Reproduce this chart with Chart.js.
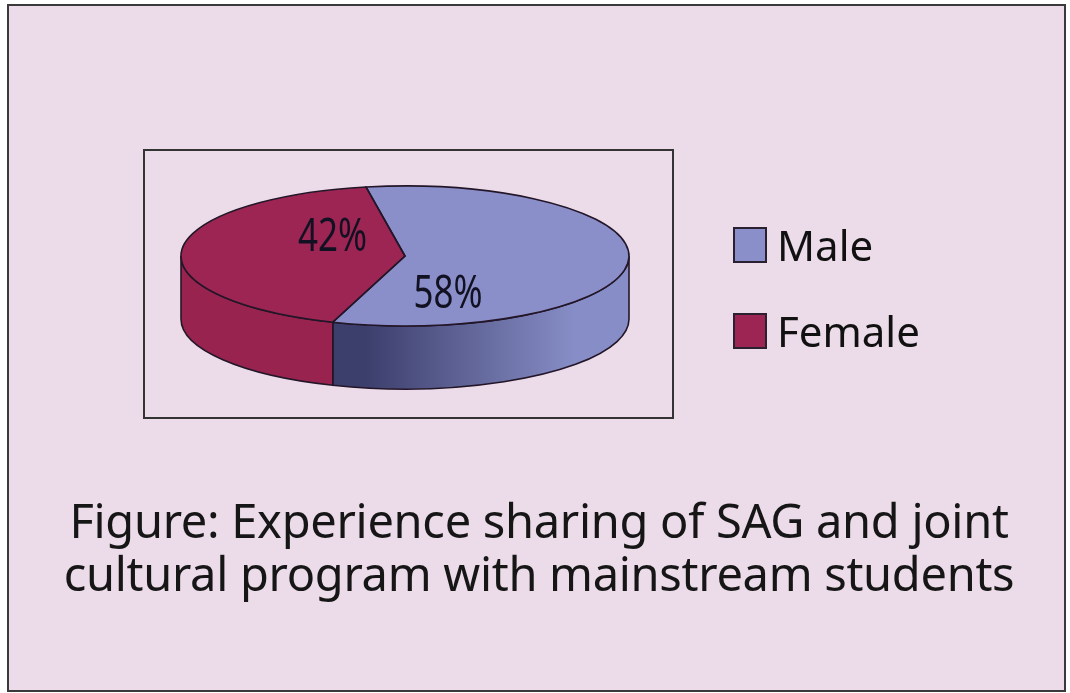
<!DOCTYPE html>
<html>
<head>
<meta charset="utf-8">
<script src="https://cdn.jsdelivr.net/npm/chart.js@4/dist/chart.umd.min.js"></script>
<style>
  body { margin: 0; background: #fff; width: 1070px; height: 693px; overflow: hidden; position: relative; font-family: "Noto Sans", sans-serif; }
  .frame { position: absolute; left: 7px; top: 4px; width: 1055px; height: 684px; border: 2.5px solid #3a3a3a; background: #ecdbe9; }
  .plotbox { position: absolute; left: 143px; top: 149px; width: 527px; height: 266px; border: 2px solid #333; }
  canvas { position: absolute; left: 0; top: 0; }
  .legend { position: absolute; left: 733px; top: 222px; }
  .legend div { display: flex; align-items: center; height: 45px; margin-bottom: 41px; font-size: 42px; color: #111; }
  .legend span { display: inline-block; width: 30px; height: 32px; border: 2px solid #2a2030; margin-right: 10px; }
  .caption { position: absolute; left: 0; width: 1078px; top: 494px; text-align: center; font-size: 47px; line-height: 53px; color: #161616; letter-spacing: -0.3px; }
</style>
</head>
<body>
<div class="frame"></div>
<div class="plotbox"></div>
<canvas id="chart" width="1070" height="693"></canvas>
<div class="legend" id="legend"></div>
<div class="caption">Figure: Experience sharing of SAG and joint<br>cultural program with mainstream students</div>

<script>
const labels = ["Male", "Female"];
const values = [58, 42];
const valueLabels = ["58%", "42%"];
const topColors = ["#8a8fca", "#9c2553"];

// 3D look
const squash = 0.3125;
const depth = 63;

function frontParts(s, e) {
  // parts of [s,e] that fall in the front half (0..PI, mod 2PI)
  const TAU = Math.PI * 2;
  let off = Math.floor(s / TAU) * TAU;
  s -= off; e -= off;
  let parts = [];
  for (let base of [0, TAU]) {
    let a = Math.max(s, base), b = Math.min(e, base + Math.PI);
    if (b > a) parts.push([a, b]);
  }
  return parts;
}

const pie3d = {
  id: "pie3d",
  beforeDatasetsDraw(chart) {
    const ctx = chart.ctx;
    const arcs = chart.getDatasetMeta(0).data;
    ctx.save();
    arcs.forEach((arc, i) => {
      const { x, y, outerRadius, startAngle, endAngle } = arc.getProps(["x", "y", "outerRadius", "startAngle", "endAngle"]);
      const ry = outerRadius * squash;
      frontParts(startAngle, endAngle).forEach(([a, b]) => {
        ctx.beginPath();
        ctx.ellipse(x, y, outerRadius, ry, 0, a, b);
        ctx.ellipse(x, y + depth, outerRadius, ry, 0, b, a, true);
        ctx.closePath();
        if (i === 0) {
          const g = ctx.createLinearGradient(x - 40, 0, x + 170, 0);
          g.addColorStop(0, "#3c3f6c");
          g.addColorStop(1, "#878dc6");
          ctx.fillStyle = g;
        } else {
          ctx.fillStyle = "#98234f";
        }
        ctx.fill();
        ctx.lineWidth = 1.6;
        ctx.strokeStyle = "#231628";
        ctx.stroke();
      });
    });
    // squash the top face
    const cy = arcs[0].y;
    ctx.translate(0, cy);
    ctx.scale(1, squash);
    ctx.translate(0, -cy);
  },
  afterDatasetsDraw(chart, args, opts) {
    const ctx = chart.ctx;
    ctx.restore();
    const arcs = chart.getDatasetMeta(0).data;
    ctx.save();
    // outlines of the top face
    arcs.forEach((arc) => {
      const { x, y, outerRadius, startAngle, endAngle } = arc.getProps(["x", "y", "outerRadius", "startAngle", "endAngle"]);
      const ry = outerRadius * squash;
      ctx.beginPath();
      ctx.moveTo(x, y);
      ctx.ellipse(x, y, outerRadius, ry, 0, startAngle, endAngle);
      ctx.closePath();
      ctx.lineWidth = 1.6;
      ctx.strokeStyle = "#231628";
      ctx.stroke();
    });
    // value labels
    ctx.fillStyle = "#111122";
    ctx.textAlign = "center";
    ctx.textBaseline = "middle";
    ctx.font = '46px "Noto Sans"';
    arcs.forEach((arc, i) => {
      const { x, y, outerRadius } = arc.getProps(["x", "y", "outerRadius"]);
      const an = opts.anchors[i];
      const t = an.angle * Math.PI / 180;
      const lx = x + Math.cos(t) * an.frac * outerRadius;
      const ly = y + Math.sin(t) * an.frac * outerRadius * squash;
      ctx.save();
      ctx.translate(lx, ly);
      ctx.scale(0.76, 1);
      ctx.fillText(chart.data.datasets[0].valueLabels[i], 0, 0);
      ctx.restore();
    });
    ctx.restore();
  }
};

const chart = new Chart(document.getElementById("chart"), {
  type: "pie",
  data: {
    labels: labels,
    datasets: [{
      data: values,
      valueLabels: valueLabels,
      backgroundColor: topColors,
      borderWidth: 0,
      radius: 224
    }]
  },
  options: {
    responsive: false,
    animation: false,
    events: [],
    rotation: -10,
    layout: { padding: { left: 181, right: 441, top: 32, bottom: 213 } },
    plugins: {
      legend: { display: false },
      tooltip: { enabled: false },
      pie3d: {
        anchors: [
          { angle: 71, frac: 0.59 },
          { angle: 218, frac: 0.41 }
        ]
      }
    }
  },
  plugins: [pie3d]
});

// legend
const legend = document.getElementById("legend");
labels.forEach((l, i) => {
  let row = document.createElement("div");
  row.innerHTML = `<span style="background:${topColors[i]}"></span>${l}`;
  legend.append(row);
});
</script>
</body>
</html>
